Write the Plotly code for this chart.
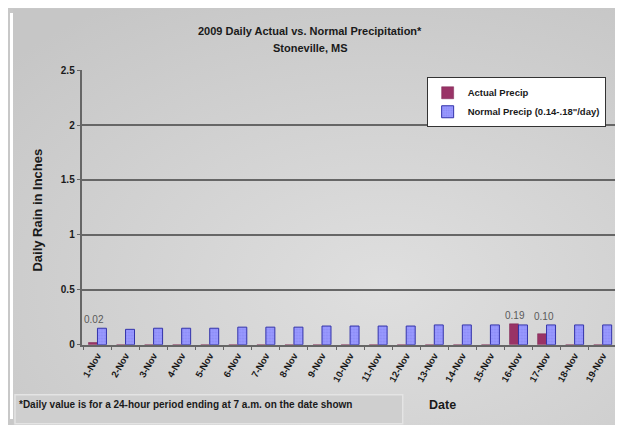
import plotly.graph_objects as go

# dados
dates = ['1-Nov', '2-Nov', '3-Nov', '4-Nov', '5-Nov', '6-Nov', '7-Nov', '8-Nov',
         '9-Nov', '10-Nov', '11-Nov', '12-Nov', '13-Nov', '14-Nov', '15-Nov',
         '16-Nov', '17-Nov', '18-Nov', '19-Nov']
actual = [0.02, 0, 0, 0, 0, 0, 0, 0, 0, 0, 0, 0, 0, 0, 0, 0.19, 0.10, 0, 0]
normal = [0.15, 0.14, 0.15, 0.15, 0.15, 0.16, 0.16, 0.16, 0.17, 0.17,
          0.17, 0.17, 0.18, 0.18, 0.18, 0.18, 0.18, 0.18, 0.18]
y_ticks = [0, 0.5, 1, 1.5, 2, 2.5]

# a página tem margem de 8px no body
OFF = 8
W, H = 623 - OFF, 425 - OFF


def px_x(p):
    return (p - OFF) / W


def px_y(p):
    return 1 - (p - OFF) / H


# fundo cinza com gradiente (svg inline)
bg_svg = (
    "data:image/svg+xml;utf8,"
    "<svg xmlns='http://www.w3.org/2000/svg' width='612' height='421'>"
    "<defs><radialGradient id='g' cx='55%' cy='62%' r='75%'>"
    "<stop offset='0%' stop-color='%23dfdfdf'/>"
    "<stop offset='100%' stop-color='%23c6c6c6'/>"
    "</radialGradient></defs>"
    "<rect width='612' height='421' fill='url(%23g)'/></svg>"
)

fig = go.Figure()
fig.add_trace(go.Bar(
    x=dates, y=actual, name='<b>Actual Precip</b>',
    marker=dict(color='#993366', line=dict(color='#7a2550', width=0.5)),
))
fig.add_trace(go.Bar(
    x=dates, y=normal, name='<b>Normal Precip (0.14-.18"/day)</b>',
    marker=dict(color='#9999ff', line=dict(color='#3333aa', width=1),
                pattern=dict(shape='.', fgcolor='#7a7ae8', size=3, solidity=0.3)),
))

# rótulos dos valores reais (acima da barra mais alta do dia)
for d, a, n in zip(dates, actual, normal):
    if a > 0:
        fig.add_annotation(x=d, y=max(a, n), text=f'{a:.2f}', showarrow=False,
                           xshift=-3, yshift=1, yanchor='bottom',
                           font=dict(size=10, color='#5a5a5a', family='Arial'))

# títulos e textos
def label(x, y, text, size, **kw):
    fig.add_annotation(x=px_x(x), y=px_y(y), xref='paper', yref='paper',
                       showarrow=False, text=text,
                       xanchor=kw.pop('xanchor', 'center'), yanchor='middle',
                       font=dict(size=size, color='#1a1a1a'), **kw)


label(309, 27, '<b>2009 Daily Actual vs. Normal Precipitation*</b>', 11)
label(309, 44, '<b>Stoneville, MS</b>', 11)
label(36, 210, '<b>Daily Rain in Inches</b>', 13, textangle=-90)
label(442, 411, '<b>Date</b>', 12.5)
label(15, 410, '<b>*Daily value is for a 24-hour period ending at 7 a.m. on the date shown</b>',
      10, xanchor='left')

fig.update_layout(
    width=W, height=H,
    margin=dict(l=0, r=0, t=0, b=0),
    paper_bgcolor='#c8c8c8', plot_bgcolor='rgba(0,0,0,0)',
    font=dict(family='Arial, Liberation Sans, sans-serif'),
    barmode='group', bargap=0.36, bargroupgap=0,
    showlegend=True,
    legend=dict(x=px_x(426), y=px_y(74), xanchor='left', yanchor='top',
                bgcolor='white', bordercolor='#333333', borderwidth=1,
                font=dict(size=9.5, color='#1a1a1a'), tracegroupgap=0,
                itemwidth=30),
    images=[dict(source=bg_svg, xref='paper', yref='paper',
                 x=px_x(11), y=px_y(4), sizex=1.1, sizey=1.1,
                 xanchor='left', yanchor='top', sizing='stretch', layer='below')],
    shapes=[
        dict(type='rect', xref='paper', yref='paper',
             x0=0, x1=px_x(11), y0=0, y1=1,
             fillcolor='white', line=dict(width=0), layer='below'),
        dict(type='rect', xref='paper', yref='paper',
             x0=px_x(13), x1=px_x(402), y0=px_y(430), y1=px_y(400),
             fillcolor='#cfcfcf', line=dict(color='#e4e4e4', width=1.5),
             layer='below'),
    ],
)

fig.update_xaxes(
    domain=[px_x(80.7), px_x(616.7)],
    tickangle=-60, tickson='boundaries', ticks='outside', ticklen=4,
    tickcolor='#666666', showline=True, linecolor='#666666', linewidth=1.5,
    tickfont=dict(size=9.5, color='#1a1a1a'),
    tickprefix='<b>', ticksuffix='</b>',
    showgrid=False, fixedrange=True,
)
fig.update_yaxes(
    domain=[px_y(348.7), px_y(66.7)],
    range=[0, 2.5], tickvals=y_ticks, ticktext=[f'<b>{v:g}</b>' for v in y_ticks],
    ticks='outside', ticklen=4, tickcolor='#666666',
    showline=True, linecolor='#666666', linewidth=1.5,
    showgrid=True, gridcolor='#666666', gridwidth=1.5,
    zeroline=False, tickfont=dict(size=10, color='#1a1a1a'),
    fixedrange=True,
)

fig.write_html("out.html")
